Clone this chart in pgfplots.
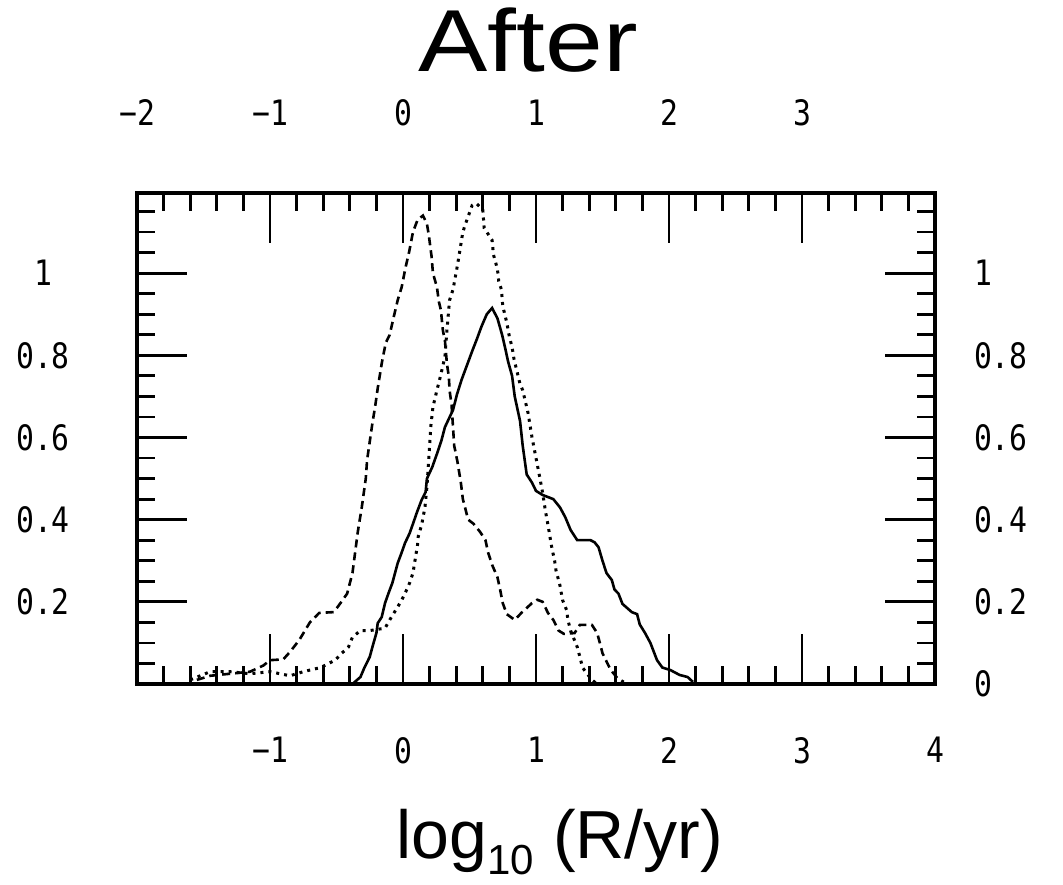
\documentclass[border=0pt]{standalone}
\usepackage{fontspec}
\setmainfont{Liberation Sans}
\newfontfamily\tickfont[FakeStretch=0.85]{DejaVu Sans Mono}
\usepackage{pgfplots}
\pgfplotsset{compat=1.18}

\pgfplotstableread{
x y
-1.55 0.01
-1.45 0.02
-1.30 0.025
-1.15 0.03
-1.05 0.045
-1.00 0.058
-0.90 0.06
-0.85 0.078
-0.78 0.107
-0.70 0.15
-0.63 0.173
-0.52 0.175
-0.47 0.197
-0.42 0.22
-0.38 0.27
-0.36 0.32
-0.34 0.37
-0.31 0.43
-0.28 0.50
-0.27 0.545
-0.25 0.59
-0.23 0.635
-0.21 0.674
-0.19 0.72
-0.16 0.78
-0.13 0.83
-0.10 0.85
-0.075 0.886
-0.04 0.934
-0.01 0.966
0.02 1.015
0.045 1.05
0.075 1.10
0.11 1.13
0.15 1.14
0.18 1.12
0.195 1.09
0.215 1.04
0.225 1.0
0.255 0.966
0.27 0.93
0.285 0.91
0.30 0.86
0.315 0.837
0.33 0.78
0.345 0.747
0.35 0.715
0.365 0.68
0.375 0.63
0.385 0.58
0.41 0.54
0.435 0.49
0.45 0.45
0.49 0.40
0.53 0.39
0.58 0.37
0.62 0.35
0.64 0.32
0.67 0.29
0.71 0.26
0.73 0.23
0.75 0.197
0.78 0.17
0.84 0.156
0.89 0.173
0.97 0.197
1.01 0.205
1.05 0.20
1.09 0.173
1.13 0.156
1.17 0.13
1.21 0.122
1.29 0.124
1.33 0.144
1.42 0.144
1.46 0.124
1.48 0.10
1.50 0.075
1.53 0.055
1.56 0.035
1.61 0.015
1.66 0.005
}\dashedA

\pgfplotstableread{
x y
-1.60 0.01
-1.45 0.03
-1.30 0.03
-1.15 0.025
-1.00 0.03
-0.85 0.02
-0.75 0.03
-0.62 0.04
-0.51 0.058
-0.46 0.075
-0.41 0.09
-0.38 0.114
-0.32 0.13
-0.25 0.13
-0.135 0.136
-0.10 0.156
-0.045 0.185
-0.01 0.204
0.02 0.224
0.05 0.246
0.075 0.27
0.085 0.29
0.11 0.34
0.115 0.36
0.14 0.387
0.165 0.43
0.18 0.48
0.19 0.53
0.20 0.58
0.21 0.63
0.225 0.674
0.255 0.715
0.28 0.747
0.315 0.796
0.33 0.86
0.35 0.934
0.376 0.96
0.41 1.02
0.43 1.06
0.45 1.10
0.47 1.12
0.52 1.165
0.55 1.17
0.60 1.155
0.61 1.11
0.67 1.08
0.68 1.045
0.71 1.01
0.72 0.98
0.74 0.96
0.75 0.92
0.78 0.88
0.80 0.845
0.82 0.82
0.835 0.79
0.86 0.757
0.88 0.73
0.90 0.715
0.94 0.66
0.97 0.60
1.00 0.55
1.03 0.50
1.05 0.465
1.07 0.423
1.09 0.387
1.105 0.358
1.12 0.33
1.14 0.30
1.15 0.277
1.18 0.24
1.20 0.204
1.23 0.18
1.24 0.156
1.26 0.13
1.28 0.114
1.31 0.09
1.33 0.066
1.35 0.04
1.38 0.027
1.42 0.01
1.46 0.0
}\dottedB

\pgfplotstableread{
x y
-0.38 0.0
-0.32 0.017
-0.29 0.04
-0.25 0.066
-0.23 0.09
-0.20 0.124
-0.19 0.148
-0.16 0.163
-0.135 0.197
-0.11 0.22
-0.08 0.246
-0.06 0.27
-0.04 0.294
-0.01 0.32
0.015 0.343
0.05 0.367
0.075 0.39
0.105 0.418
0.14 0.448
0.17 0.467
0.18 0.50
0.22 0.528
0.255 0.56
0.29 0.594
0.315 0.625
0.376 0.667
0.406 0.705
0.44 0.74
0.48 0.775
0.52 0.81
0.556 0.84
0.59 0.87
0.63 0.90
0.67 0.915
0.71 0.89
0.745 0.85
0.77 0.815
0.79 0.785
0.82 0.75
0.84 0.70
0.88 0.64
0.90 0.58
0.93 0.51
0.97 0.49
1.00 0.47
1.05 0.46
1.13 0.45
1.18 0.43
1.22 0.406
1.26 0.375
1.31 0.35
1.41 0.35
1.44 0.345
1.47 0.333
1.50 0.30
1.53 0.27
1.57 0.253
1.59 0.23
1.62 0.22
1.65 0.195
1.72 0.175
1.76 0.17
1.78 0.145
1.82 0.124
1.86 0.10
1.91 0.058
1.95 0.04
2.01 0.034
2.08 0.022
2.14 0.017
2.18 0.005
}\solidC

\begin{document}
\begin{tikzpicture}
\useasboundingbox (0,0) rectangle (531.5pt,442pt);
\pgfplotsset{
  frameaxis/.style={
    at={(68.5pt,100pt)}, anchor=south west,
    scale only axis, width=399pt, height=245.5pt,
    xmin=-2, xmax=4, ymin=0, ymax=1.195,
  },
  tickfnt/.style={font=\tickfont\fontsize{17.5}{17.5}\selectfont},
}
\begin{axis}[
  frameaxis,
  axis line style={line width=2pt},
  tick align=inside,
  xtick={-1,0,1,2,3,4},
  xticklabels={−1,0,1,2,3,4},
  minor xtick={-2,-1.8,...,4},
  ytick={0,0.2,0.4,0.6,0.8,1},
  yticklabels={,0.2,0.4,0.6,0.8,1},
  minor ytick={0,0.05,...,1.16},
  major tick length=25pt,
  minor tick length=9pt,
  every tick/.style={line width=1.4pt, black},
  xticklabel style={tickfnt, yshift=-23pt},
  yticklabel style={tickfnt, anchor=center, xshift=-47pt},
]
\addplot[black, line width=1.3pt, dash pattern=on 4pt off 2.5pt] table {\dashedA};
\addplot[black, line width=1.5pt, dash pattern=on 1.5pt off 2.5pt] table {\dottedB};
\addplot[black, line width=1.3pt] table {\solidC};
\end{axis}
\begin{axis}[
  frameaxis,
  axis line style={draw=none},
  major tick length=0pt, minor tick length=0pt,
  xtick={-2,-1,0,1,2,3},
  xticklabels={−2,−1,0,1,2,3},
  xticklabel pos=right,
  ytick={0,0.2,0.4,0.6,0.8,1},
  yticklabels={0,0.2,0.4,0.6,0.8,1},
  yticklabel pos=right,
  xticklabel style={tickfnt, yshift=30pt},
  yticklabel style={tickfnt, anchor=west, xshift=16pt},
]
\end{axis}
\node[anchor=base] at (264pt,406pt) {\fontsize{44}{44}\selectfont\scalebox{1.18}[1]{After}};
\node[anchor=base] at (280pt,13pt) {\fontsize{34}{34}\selectfont log\raisebox{-0.24em}{\fontsize{21}{21}\selectfont 10} (R/yr)};
\end{tikzpicture}
\end{document}
